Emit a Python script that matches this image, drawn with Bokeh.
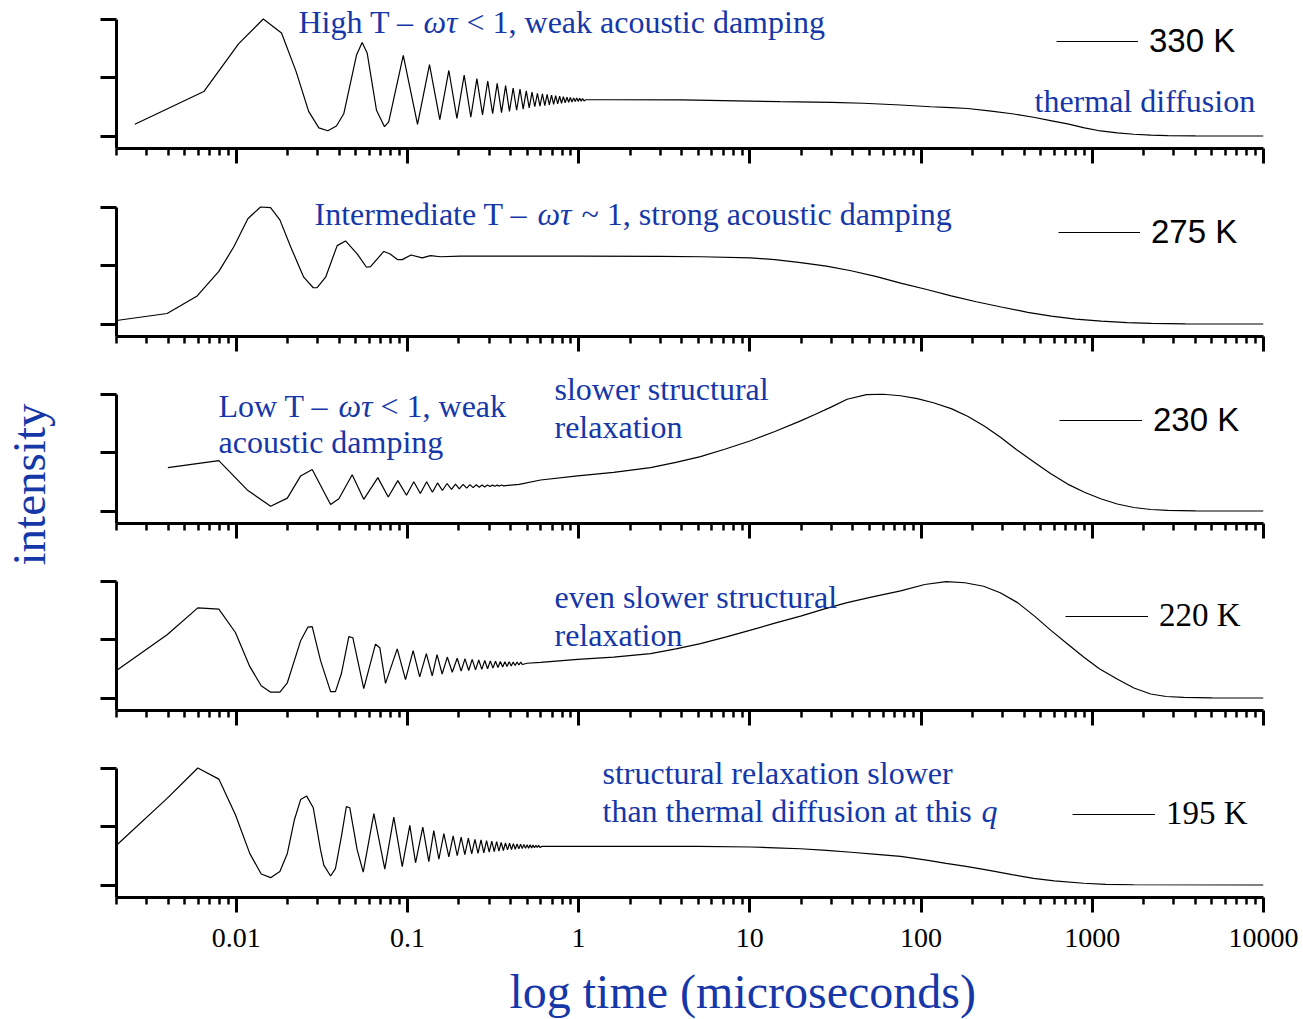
import math
from bokeh.plotting import figure
from bokeh.models import Range1d, FixedTicker, Label, Legend, LegendItem
from bokeh.layouts import column, row
from bokeh.core.properties import value
from bokeh.embed import file_html
from bokeh.resources import INLINE

# ---------------- data ----------------
temperatures = ["330 K", "275 K", "230 K", "220 K", "195 K"]

time_330 = [0.00256, 0.00647, 0.01035, 0.0144, 0.0184, 0.0224, 0.0265, 0.0304, 0.0343, 0.0385,
            0.0425, 0.0504, 0.0544, 0.0582, 0.066, 0.0735, 0.0778,
            0.0946, 0.1146, 0.1346, 0.1546, 0.1746, 0.1946, 0.2146, 0.2346, 0.2546, 0.2746,
            0.2946, 0.3146, 0.3346, 0.3546, 0.3746, 0.3946, 0.4146, 0.4346, 0.4546, 0.4746,
            0.4946, 0.5146, 0.5346, 0.5546, 0.5746, 0.5946, 0.6146, 0.6346, 0.6546, 0.6746,
            0.6946, 0.7146, 0.7346, 0.7546, 0.7746, 0.7946, 0.8146, 0.8346, 0.8546, 0.8746,
            0.8946, 0.9146, 0.9346, 0.9546, 0.9746, 0.9946, 1.0146, 1.0346, 1.0546, 1.0746,
            1.1, 1.5, 4.0, 15.0, 30.0, 46.0, 76.0, 114.0, 150.0, 187.0, 250.0, 340.0, 454.0,
            580.0, 718.0, 900.0, 1119.0, 1400.0, 1746.0, 2200.0, 2756.0, 4000.0, 10000.0]
int_330 = [0.10, 0.38, 0.79, 1.00, 0.88, 0.55, 0.21, 0.07, 0.045, 0.085,
           0.19, 0.69, 0.80, 0.71, 0.22, 0.08, 0.12,
           0.69, 0.10, 0.61, 0.14, 0.56, 0.15, 0.52, 0.16, 0.49, 0.18,
           0.47, 0.19, 0.45, 0.20, 0.43, 0.21, 0.41, 0.22, 0.40, 0.23,
           0.385, 0.24, 0.375, 0.25, 0.365, 0.255, 0.36, 0.26, 0.355, 0.265,
           0.35, 0.27, 0.345, 0.275, 0.34, 0.28, 0.336, 0.284, 0.332, 0.288,
           0.329, 0.291, 0.326, 0.294, 0.324, 0.296, 0.322, 0.298, 0.32, 0.30,
           0.31, 0.31, 0.308, 0.293, 0.287, 0.28, 0.265, 0.25, 0.243, 0.235, 0.215, 0.19, 0.16,
           0.13, 0.103, 0.07, 0.043, 0.027, 0.015, 0.008, 0.004, 0.001, 0.0]

time_275 = [0.002, 0.00395, 0.00592, 0.00792, 0.00969, 0.0117, 0.01387, 0.01588, 0.0180, 0.0208,
            0.0248, 0.0282, 0.0297, 0.0333, 0.0389, 0.0435, 0.0509, 0.0577, 0.0609, 0.0728,
            0.0789, 0.0879, 0.0933, 0.105, 0.122, 0.1365, 0.156, 0.204, 0.5, 1.0,
            3.0, 5.2, 10.1, 14.0, 19.8, 28.0, 39.0, 55.0, 76.0, 108.0, 150.0, 210.0, 294.0,
            420.0, 576.0, 800.0, 1130.0, 1600.0, 2213.0, 3500.0, 10000.0]
int_275 = [0.03, 0.09, 0.24, 0.45, 0.66, 0.90, 1.0, 0.995, 0.89, 0.66,
           0.40, 0.31, 0.31, 0.40, 0.67, 0.71, 0.60, 0.485, 0.49, 0.62,
           0.60, 0.55, 0.55, 0.59, 0.565, 0.585, 0.575, 0.58, 0.58, 0.58,
           0.578, 0.575, 0.565, 0.55, 0.525, 0.495, 0.455, 0.405, 0.35, 0.295, 0.24, 0.19, 0.145,
           0.10, 0.068, 0.042, 0.024, 0.012, 0.005, 0.001, 0.0]

time_230 = [0.00399, 0.00792, 0.0116, 0.0159, 0.0199, 0.0238, 0.0278, 0.0356, 0.0398, 0.0476,
            0.0556, 0.0672, 0.0773, 0.0879, 0.0988, 0.109, 0.119, 0.1295, 0.14, 0.15,
            0.16, 0.1705, 0.181, 0.191, 0.201, 0.2115, 0.222, 0.232, 0.242, 0.2525,
            0.263, 0.273, 0.283, 0.2935, 0.304, 0.314, 0.324, 0.3345, 0.345, 0.355,
            0.365, 0.45, 0.6, 0.987, 1.6, 2.63, 3.7, 5.15, 7.2, 10.1, 14.0, 19.8, 24.0,
            30.0, 37.0, 48.0, 60.0, 76.0, 95.0, 118.0, 150.0, 187.0, 235.0, 291.0, 360.0,
            454.0, 570.0, 718.0, 900.0, 1119.0, 1400.0, 1746.0, 2200.0, 2756.0, 4000.0, 10000.0]
int_230 = [0.37, 0.43, 0.18, 0.04, 0.11, 0.30, 0.355, 0.055, 0.105, 0.31,
           0.10, 0.285, 0.12, 0.26, 0.135, 0.25, 0.15, 0.25, 0.16, 0.24,
           0.175, 0.235, 0.185, 0.23, 0.19, 0.228, 0.195, 0.226, 0.20, 0.224,
           0.203, 0.223, 0.206, 0.222, 0.209, 0.221, 0.211, 0.221, 0.213, 0.222,
           0.215, 0.228, 0.265, 0.30, 0.33, 0.37, 0.415, 0.465, 0.53, 0.60, 0.68, 0.77, 0.825,
           0.89, 0.955, 0.995, 0.998, 0.985, 0.96, 0.925, 0.875, 0.81, 0.725, 0.63, 0.525,
           0.42, 0.32, 0.23, 0.16, 0.105, 0.06, 0.03, 0.013, 0.005, 0.001, 0.0]

time_220 = [0.002, 0.00395, 0.00597, 0.00792, 0.0099, 0.012, 0.014, 0.0159, 0.018, 0.0199,
            0.0238, 0.0262, 0.0278, 0.0311, 0.0356, 0.038, 0.0411, 0.0455, 0.048, 0.0556,
            0.0651, 0.069, 0.0745, 0.0872, 0.0975, 0.108, 0.118, 0.129, 0.1396, 0.149,
            0.1596, 0.171, 0.1828, 0.1954, 0.206, 0.217, 0.228, 0.239, 0.25, 0.261,
            0.272, 0.283, 0.294, 0.305, 0.316, 0.327, 0.338, 0.349, 0.36, 0.371,
            0.382, 0.393, 0.404, 0.415, 0.426, 0.437, 0.448, 0.459, 0.47, 0.5,
            0.6, 0.987, 1.6, 2.63, 3.7, 5.15, 7.2, 10.1, 14.0, 19.8, 27.0, 37.0, 52.0, 76.0,
            105.0, 140.0, 180.0, 232.0, 290.0, 366.0, 460.0, 571.0, 720.0, 890.0, 1100.0,
            1405.0, 1750.0, 2193.0, 2700.0, 3414.0, 5000.0, 10000.0]
int_220 = [0.235, 0.54, 0.77, 0.76, 0.56, 0.27, 0.105, 0.05, 0.05, 0.13,
           0.49, 0.605, 0.61, 0.32, 0.055, 0.055, 0.205, 0.525, 0.515, 0.08,
           0.46, 0.43, 0.125, 0.42, 0.157, 0.405, 0.18, 0.38, 0.19, 0.37,
           0.205, 0.35, 0.22, 0.34, 0.23, 0.335, 0.235, 0.33, 0.24, 0.325,
           0.245, 0.32, 0.25, 0.317, 0.255, 0.314, 0.26, 0.312, 0.265, 0.31,
           0.27, 0.309, 0.274, 0.308, 0.278, 0.307, 0.282, 0.306, 0.286, 0.297,
           0.305, 0.33, 0.35, 0.38, 0.42, 0.465, 0.52, 0.58, 0.64, 0.70, 0.76, 0.815, 0.865, 0.915,
           0.97, 0.995, 0.985, 0.955, 0.90, 0.815, 0.70, 0.58, 0.46, 0.35, 0.25,
           0.16, 0.085, 0.034, 0.013, 0.005, 0.001, 0.0]

time_195 = [0.002, 0.00395, 0.00597, 0.00792, 0.0099, 0.012, 0.014, 0.0159, 0.018, 0.0199,
            0.0219, 0.0238, 0.0258, 0.0282, 0.0311, 0.0325, 0.0356, 0.038, 0.0411, 0.044,
            0.0461, 0.0509, 0.0552, 0.0637, 0.0738, 0.0833, 0.0933, 0.1033, 0.1116, 0.123,
            0.1334, 0.1426, 0.1527, 0.1633, 0.1746, 0.185, 0.1955, 0.206, 0.2165, 0.227,
            0.2375, 0.248, 0.2585, 0.269, 0.2795, 0.29, 0.3005, 0.311, 0.3215, 0.332,
            0.3425, 0.353, 0.3635, 0.374, 0.3845, 0.395, 0.4055, 0.416, 0.4265, 0.437,
            0.4475, 0.458, 0.4685, 0.479, 0.4895, 0.5, 0.5105, 0.521, 0.5315, 0.542,
            0.5525, 0.563, 0.5735, 0.584, 0.5945, 0.61, 1.0, 5.0, 10.1, 14.0, 19.8,
            28.0, 39.0, 55.0, 76.0, 110.0, 140.0, 187.0, 250.0, 340.0, 454.0, 600.0, 890.0,
            1200.0, 1746.0, 10000.0]
int_195 = [0.34, 0.74, 1.0, 0.905, 0.60, 0.27, 0.094, 0.063, 0.115, 0.27,
           0.56, 0.73, 0.76, 0.66, 0.30, 0.17, 0.077, 0.14, 0.41, 0.67,
           0.66, 0.30, 0.11, 0.61, 0.135, 0.58, 0.157, 0.51, 0.19, 0.495,
           0.20, 0.465, 0.22, 0.44, 0.24, 0.42, 0.25, 0.41, 0.26, 0.40,
           0.265, 0.39, 0.27, 0.385, 0.275, 0.38, 0.28, 0.375, 0.285, 0.37,
           0.29, 0.365, 0.295, 0.36, 0.30, 0.357, 0.303, 0.354, 0.306, 0.351,
           0.309, 0.349, 0.311, 0.347, 0.313, 0.345, 0.315, 0.343, 0.317, 0.341,
           0.319, 0.34, 0.32, 0.339, 0.321, 0.33, 0.33, 0.33, 0.325, 0.318, 0.31,
           0.296, 0.28, 0.262, 0.245, 0.21, 0.185, 0.157, 0.125, 0.088, 0.057, 0.035, 0.015,
           0.006, 0.002, 0.0]

x_ticks = [0.01, 0.1, 1, 10, 100, 1000, 10000]
x_tick_labels = ["0.01", "0.1", "1", "10", "100", "1000", "10000"]
x_minor_ticks = [m * 10.0 ** e for e in range(-3, 4) for m in range(2, 10)]
y_ticks = [0, 0.5, 1.0]

series = [(time_330, int_330), (time_275, int_275), (time_230, int_230),
          (time_220, int_220), (time_195, int_195)]

# ---------------- layout / style ----------------
BLUE = "#1537A8"
SERIF = "Liberation Serif"
SANS = "Liberation Sans"
PAGE_W, PAGE_H = 1303, 1019
LEFT_W = 62                     # strip that carries the vertical "intensity" title
W = PAGE_W - LEFT_W
BOTTOM_TOP = 960                # page y where the strip with the x title starts
FRAME_LEFT, FRAME_RIGHT = 116, 1263   # page pixels
canvas_tops = [0, 186, 368, 570, 748]
tops = [0, 186, 374, 570, 748]
bottoms = [148, 336, 523, 710, 897]
canvas_bottoms = [186, 368, 570, 748, BOTTOM_TOP]
PX_UNIT = 117.0
ZERO_OFFSET = 12.5
TEXT_SHIFT = 12
LOG_LO, LOG_HI = math.log10(0.002), math.log10(10000)


def t_at(px):
    return 10 ** (LOG_LO + (px - FRAME_LEFT) * (LOG_HI - LOG_LO) / (FRAME_RIGHT - FRAME_LEFT))


def v_at(k, py):
    return (bottoms[k] - ZERO_OFFSET - py) / PX_UNIT


legend_fonts = [SANS, SANS, SANS, SERIF, SERIF]
legend_pos = [(1056, 42, 82), (1058, 233, 82), (1059, 421, 83), (1065, 616, 83), (1072, 814, 83)]

texts = [
    (0, 298, 33, "High T \u2013", False),
    (0, 423, 33, "\u03c9\u03c4", True),
    (0, 466, 33, "< 1, weak acoustic damping", False),
    (0, 1034, 112, "thermal diffusion", False),
    (1, 314, 225, "Intermediate T \u2013", False),
    (1, 537, 225, "\u03c9\u03c4", True),
    (1, 581, 225, "~ 1, strong acoustic damping", False),
    (2, 218, 417, "Low T \u2013", False),
    (2, 338, 417, "\u03c9\u03c4", True),
    (2, 380, 417, "< 1, weak", False),
    (2, 218, 453, "acoustic damping", False),
    (2, 554, 400, "slower structural", False),
    (2, 554, 438, "relaxation", False),
    (3, 554, 608, "even slower structural", False),
    (3, 554, 646, "relaxation", False),
    (4, 602, 784, "structural relaxation slower", False),
    (4, 602, 822, "than thermal diffusion at this", False),
    (4, 981, 822, "q", True),
]


def blank_strip(width, height):
    s = figure(width=width, height=height, x_range=Range1d(0, width), y_range=Range1d(0, height),
               output_backend="svg", toolbar_location=None, min_border=0,
               x_axis_location=None, y_axis_location=None)
    s.outline_line_color = None
    s.background_fill_color = "white"
    s.border_fill_color = "white"
    for g in s.grid:
        g.visible = False
    return s


figs = []
for k in range(5):
    h_frame = bottoms[k] - tops[k]
    y0 = -ZERO_OFFSET / PX_UNIT
    y1 = (h_frame - ZERO_OFFSET) / PX_UNIT
    p = figure(width=W, height=canvas_bottoms[k] - canvas_tops[k], x_axis_type="log",
               x_range=Range1d(0.002, 10000), y_range=Range1d(y0, y1),
               output_backend="svg", toolbar_location=None,
               min_border_left=FRAME_LEFT - LEFT_W, min_border_right=PAGE_W - FRAME_RIGHT,
               min_border_top=tops[k] - canvas_tops[k],
               min_border_bottom=canvas_bottoms[k] - bottoms[k])
    p.outline_line_color = None
    p.xgrid.grid_line_color = None
    p.ygrid.grid_line_color = None
    p.background_fill_color = "white"
    p.border_fill_color = "white"

    t, v = series[k]
    r = p.line(t, v, line_color="black", line_width=1.2)

    xa = p.xaxis[0]
    xa.ticker = FixedTicker(ticks=x_ticks, minor_ticks=x_minor_ticks)
    xa.axis_line_width = 3
    xa.axis_line_color = "black"
    xa.major_tick_line_width = 3
    xa.minor_tick_line_width = 2.5
    xa.major_tick_line_color = "black"
    xa.minor_tick_line_color = "black"
    xa.major_tick_out = 15
    xa.major_tick_in = 0
    xa.minor_tick_out = 7
    xa.minor_tick_in = 0
    xa.major_label_overrides = dict(zip(x_ticks, x_tick_labels))
    if k == 4:
        xa.major_label_text_font = SERIF
        xa.major_label_text_font_size = "28px"
        xa.major_label_text_color = "black"
        xa.major_label_standoff = 16
    else:
        xa.major_label_text_font_size = "10px"
        xa.major_label_text_color = None
        xa.major_label_standoff = 0

    ya = p.yaxis[0]
    ya.ticker = FixedTicker(ticks=y_ticks)
    ya.major_label_text_font_size = "10px"
    ya.major_label_text_color = None
    ya.major_label_standoff = 0
    ya.axis_line_width = 3
    ya.axis_line_color = "black"
    ya.major_tick_line_width = 3
    ya.major_tick_line_color = "black"
    ya.major_tick_out = 16
    ya.major_tick_in = 0
    ya.minor_tick_line_color = None
    ya.bounds = (y0, 1.0)

    lx, ly, gw = legend_pos[k]
    row_h = 36
    leg = Legend(items=[LegendItem(label=value(temperatures[k]), renderers=[r])],
                 location=(lx - FRAME_LEFT, bottoms[k] - (ly + row_h / 2)),
                 glyph_width=gw, glyph_height=row_h, label_height=row_h,
                 label_standoff=11, padding=1, margin=0, spacing=0,
                 label_text_font=legend_fonts[k], label_text_font_size="33px",
                 label_text_color="black",
                 border_line_color=None, background_fill_alpha=0)
    p.add_layout(leg)
    figs.append(p)

for k, px, py, txt, italic in texts:
    figs[k].add_layout(Label(x=t_at(px), y=v_at(k, py - TEXT_SHIFT), text=txt,
                             text_font=SERIF, text_font_size="32px",
                             text_font_style="italic" if italic else "normal",
                             text_color=BLUE, text_align="left",
                             text_baseline="alphabetic"))

# bottom strip carrying the x title (coordinates: strip pixels, y measured upward)
bottom = blank_strip(W, PAGE_H - BOTTOM_TOP)
bottom.add_layout(Label(x=739.5 - LEFT_W, y=(PAGE_H - 1003) + TEXT_SHIFT,
                        text="log time (microseconds)",
                        text_font=SERIF, text_font_size="48px", text_color=BLUE,
                        text_align="center", text_baseline="alphabetic"))

# left strip carrying the vertical y title (coordinates: page pixels, y measured upward)
left = blank_strip(LEFT_W, PAGE_H)
left.add_layout(Label(x=28, y=PAGE_H - 484, text="intensity", angle=math.pi / 2,
                      text_font=SERIF, text_font_size="47px", text_color=BLUE,
                      text_align="center", text_baseline="alphabetic"))

layout = row(left, column(*figs, bottom, spacing=0), spacing=0)
open("out.html", "w").write(file_html(layout, INLINE))
